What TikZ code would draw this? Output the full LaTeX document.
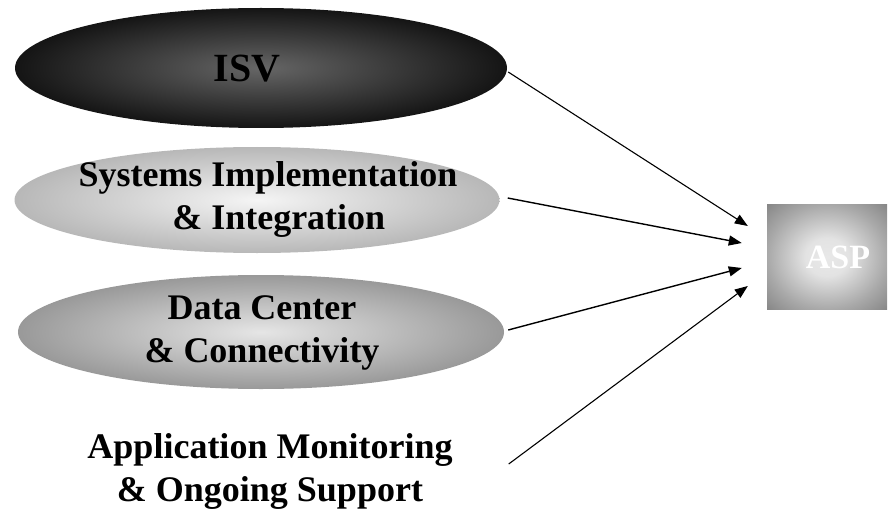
\documentclass[tikz,border=0pt]{standalone}
\usepackage{fontspec}
\setmainfont{Liberation Serif}
\usetikzlibrary{shapes.geometric,arrows.meta}

% soft glow for the ASP box: pale centre fading to grey edges
\pgfdeclareradialshading{aspglow}{\pgfpoint{0bp}{0bp}}{%
  color(0bp)=(black!9); color(9bp)=(black!11); color(25bp)=(black!34);
  color(36bp)=(black!48); color(50bp)=(black!48)}

\begin{document}
\begin{tikzpicture}[x=1pt,y=-1pt,
  blob/.style={ellipse, inner sep=0pt, draw=none, shading=radial},
  label/.style={font=\fontsize{36}{43}\selectfont\bfseries, align=center,
                inner sep=0pt, text=black},
  feed/.style={line width=1.4pt, -{Triangle[length=13pt,width=10pt]}}]

  \useasboundingbox (0,0) rectangle (894,516);

  % component ellipses
  \node[blob, minimum width=492pt, minimum height=120pt,
        inner color=black!60, outer color=black!92] (isv) at (261,68) {};
  \node[blob, minimum width=485pt, minimum height=106pt,
        inner color=black!4, outer color=black!28] (sys) at (257,200) {};
  \node[blob, minimum width=486pt, minimum height=114pt,
        inner color=black!10, outer color=black!40] (dc) at (261,332) {};

  % their captions
  \node[label, font=\fontsize{40}{43}\selectfont\bfseries] (isvt) at (247,69) {ISV};
  \node[label] (syst) at (268,199) {Systems Implementation\\\hspace*{0.6em}\& Integration};
  \node[label] (dct) at (262,333) {Data Center\\\& Connectivity};
  \node[label] (app) at (270,471) {Application Monitoring\\\& Ongoing Support};

  % ASP box
  \node[minimum width=120pt, minimum height=105pt, inner sep=0pt,
        shading=aspglow] (asp) at (827,257) {};
  \node[font=\fontsize{34}{40}\selectfont\bfseries, text=white, inner sep=0pt]
        (aspt) at (838,257) {ASP};

  % everything feeds the ASP
  \draw[feed, line width=1.1pt] ([xshift=1pt,yshift=-4pt]isv.east)
        -- ([xshift=-19pt,yshift=31pt]asp.west);
  \draw[feed] ([xshift=8pt,yshift=2pt]sys.east)
        -- ([xshift=-25pt,yshift=14pt]asp.west);
  \draw[feed] ([xshift=4pt,yshift=2pt]dc.east)
        -- ([xshift=-25pt,yshift=-11pt]asp.west);
  \draw[feed, line width=1.1pt] ([xshift=56pt,yshift=7pt]app.east)
        -- ([xshift=-19pt,yshift=-29pt]asp.west);
\end{tikzpicture}
\end{document}
